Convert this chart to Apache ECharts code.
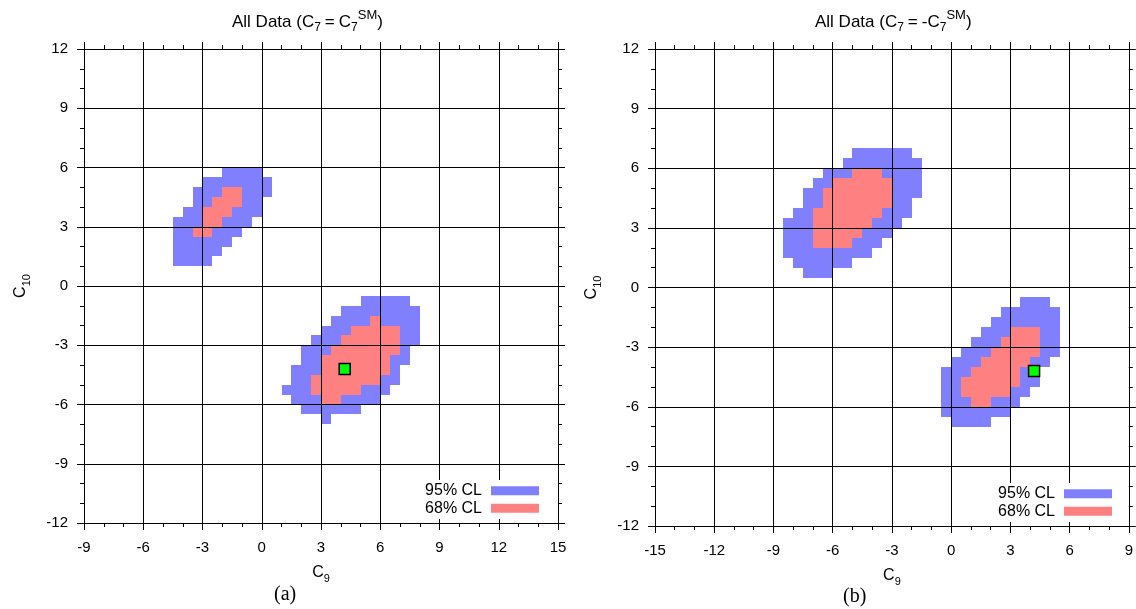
<!DOCTYPE html>
<html><head><meta charset="utf-8">
<script src="https://cdn.jsdelivr.net/npm/echarts@6/dist/echarts.min.js"></script>
<style>html,body{margin:0;padding:0;background:#fff}#c{width:1136px;height:609px}</style>
</head><body><div id="c"></div>
<script>
// ---- data (C9, C10 plane; each run = [C10 row bottom, C9 start, C9 end], bin = 0.5) ----
const CELL = 0.5;
const leftXRange = [-9, 15];
const rightXRange = [-15, 9];
const yRange = [-12, 12];
const TICK_STEP = 3;
const legendNames = ['95% CL', '68% CL'];

const leftBlue = [
  [5.5,-2,0],[5,-3,0.5],[4.5,-3.5,0.5],[4,-3.5,0],[3.5,-4,0],[3,-4.5,-0.5],
  [2.5,-4.5,-1],[2,-4.5,-1.5],[1.5,-4.5,-2],[1,-4.5,-2.5],
  [-1,5,7.5],[-1.5,4,8],[-2,3.5,8],[-2.5,3,8],[-3,2.5,8],[-3.5,2,7.5],[-4,2,7.5],
  [-4.5,1.5,7],[-5,1.5,7],[-5.5,1,6.5],[-6,1.5,6],[-6.5,2,5],[-7,3,3.5]
];
const leftRed = [
  [4.5,-2,-1],[4,-2.5,-1],[3.5,-3,-1.5],[3,-3,-2],[2.5,-3.5,-2.5],
  [-2,5.5,6],[-2.5,4.5,7],[-3,4,7],[-3.5,3.5,7],[-4,3,6.5],[-4.5,3,6.5],
  [-5,2.5,6],[-5.5,2.5,5],[-6,3,4]
];
const rightBlue = [
  [6.5,-5,-2],[6,-5.5,-1.5],[5.5,-6.5,-1.5],[5,-7,-1.5],[4.5,-7.5,-1.5],[4,-7.5,-2],
  [3.5,-8,-2],[3,-8.5,-2.5],[2.5,-8.5,-3],[2,-8.5,-3.5],[1.5,-8.5,-4],[1,-8,-5],[0.5,-7.5,-6],
  [-1,3.5,5],[-1.5,2.5,5.5],[-2,2,5.5],[-2.5,1.5,5.5],[-3,1,5.5],[-3.5,0.5,5.5],[-4,0,5],
  [-4.5,-0.5,4.5],[-5,-0.5,4.5],[-5.5,-0.5,4],[-6,-0.5,3.5],[-6.5,-0.5,3],[-7,0,2]
];
const rightRed = [
  [5.5,-5,-3.5],[5,-6,-3],[4.5,-6.5,-3],[4,-6.5,-3],[3.5,-7,-3.5],[3,-7,-4],[2.5,-7,-4.5],[2,-7,-5],
  [-2.5,3,4.5],[-3,2.5,4.5],[-3.5,2,4.5],[-4,1.5,4],[-4.5,1,3.5],[-5,0.5,3.5],[-5.5,0.5,3],[-6,1,2]
];
const smPoint = [[4.2, -4.2]];

// ---- styling ----
const FONT = 'Liberation Sans';
const BLUE = '#8080ff', RED = '#ff8080';

function runRender(params, api) {
  const y = api.value(0), xs = api.value(1), xe = api.value(2);
  const a = api.coord([xs, y + CELL]);
  const b = api.coord([xe, y]);
  const x0 = Math.round(a[0]), y0 = Math.round(a[1]);
  const x1 = Math.round(b[0]), y1 = Math.round(b[1]);
  return { type: 'rect', shape: { x: x0, y: y0, width: x1 - x0, height: y1 - y0 },
           style: { fill: api.visual('color') } };
}

const nameRich = {
  c: { fontFamily: FONT, fontSize: 16, lineHeight: 16, fontWeight: 'normal', color: '#000', verticalAlign: 'top' },
  s: { fontFamily: FONT, fontSize: 11, lineHeight: 11, fontWeight: 'normal', color: '#000', verticalAlign: 'top', padding: [8, 0, 0, 0] }
};

function axis(gi, range, pos, main, name, nameGap, margin) {
  const o = {
    gridIndex: gi, type: 'value', min: range[0], max: range[1], interval: TICK_STEP,
    position: pos, z: 10,
    axisLine: { show: true, onZero: false, lineStyle: { color: '#000', width: 1 } },
    axisTick: { show: true, inside: false, length: 7, lineStyle: { color: '#000', width: 1 } },
    minorTick: { show: true, splitNumber: 3, length: 4, lineStyle: { color: '#000', width: 1 } },
    splitLine: { show: main, lineStyle: { color: '#000', width: 1 } },
    minorSplitLine: { show: false },
    axisLabel: { show: main, color: '#000', fontFamily: FONT, fontSize: 15, margin: margin || 15,
                 showMinLabel: true, showMaxLabel: true }
  };
  if (name) {
    o.name = name; o.nameLocation = 'middle'; o.nameGap = nameGap;
    o.nameTextStyle = { rich: nameRich };
  }
  return o;
}

function cellSeries(name, data, gi, color, z) {
  return { type: 'custom', name: name, xAxisIndex: gi * 2, yAxisIndex: gi * 2, data: data,
           encode: { x: [1, 2], y: 0 }, itemStyle: { color: color }, renderItem: runRender,
           z: z, silent: true };
}
function markSeries(gi) {
  return { type: 'scatter', name: 'SM', xAxisIndex: gi * 2, yAxisIndex: gi * 2, data: smPoint,
           symbol: 'rect', symbolSize: 11,
           itemStyle: { color: '#00ff00', borderColor: '#000', borderWidth: 1.5, opacity: 1 },
           z: 20, silent: true };
}

const titleRich = {
  m: { fontFamily: FONT, fontSize: 17, lineHeight: 17, fontWeight: 'normal', color: '#000', verticalAlign: 'top', padding: [5, 0, 0, 0] },
  e: { fontFamily: FONT, fontSize: 17, lineHeight: 17, fontWeight: 'normal', color: '#000', verticalAlign: 'top', padding: [5, 4, 0, 4] },
  s: { fontFamily: FONT, fontSize: 12, lineHeight: 12, fontWeight: 'normal', color: '#000', verticalAlign: 'top', padding: [13, 0, 0, 0] },
  p: { fontFamily: FONT, fontSize: 13, lineHeight: 13, fontWeight: 'normal', color: '#000', verticalAlign: 'top', padding: [0, 0, 0, 0] }
};

function legendAt(right, top) {
  return {
    data: legendNames, orient: 'vertical', align: 'right', right: right, top: top,
    itemWidth: 48, itemHeight: 9, itemGap: 0, icon: 'rect', selectedMode: false,
    backgroundColor: '#fff', padding: [2, 6, 2, 30], z: 30,
    textStyle: { fontFamily: FONT, fontSize: 16, color: '#000', lineHeight: 17.5, padding: [0, 4, 0, 0] }
  };
}

const option = {
  animation: false,
  backgroundColor: '#fff',
  title: [
    { text: '{m|All Data (C}{s|7}{e|=}{m|C}{s|7}{p|SM}{m|)}', left: 232, top: 9, padding: 0,
      textStyle: { fontWeight: 'normal', rich: titleRich } },
    { text: '{m|All Data (C}{s|7}{e|=}{m|-C}{s|7}{p|SM}{m|)}', left: 815, top: 9, padding: 0,
      textStyle: { fontWeight: 'normal', rich: titleRich } },
    { text: '(a)', left: 274, top: 585, padding: 0,
      textStyle: { fontFamily: 'Liberation Serif', fontSize: 20, fontWeight: 'normal', color: '#000' } },
    { text: '(b)', left: 843, top: 587, padding: 0,
      textStyle: { fontFamily: 'Liberation Serif', fontSize: 20, fontWeight: 'normal', color: '#000' } }
  ],
  grid: [
    { left: 84, top: 49, width: 474, height: 474 },
    { left: 655, top: 49, width: 477, height: 477 }
  ],
  xAxis: [
    axis(0, leftXRange, 'bottom', true, '{c|C}{s|9}', 42, 17),
    axis(0, leftXRange, 'top', false),
    axis(1, rightXRange, 'bottom', true, '{c|C}{s|9}', 42, 17),
    axis(1, rightXRange, 'top', false)
  ],
  yAxis: [
    axis(0, yRange, 'left', true, '{c|C}{s|10}', 55, 16),
    axis(0, yRange, 'right', false),
    axis(1, yRange, 'left', true, '{c|C}{s|10}', 55, 16),
    axis(1, yRange, 'right', false)
  ],
  legend: [ legendAt(591, 480), legendAt(18, 483) ],
  series: [
    cellSeries(legendNames[0], leftBlue, 0, BLUE, 2),
    cellSeries(legendNames[1], leftRed, 0, RED, 3),
    markSeries(0),
    cellSeries(legendNames[0], rightBlue, 1, BLUE, 2),
    cellSeries(legendNames[1], rightRed, 1, RED, 3),
    markSeries(1)
  ]
};

const chart = echarts.init(document.getElementById('c'), null, { renderer: 'canvas' });
chart.setOption(option);
</script>
</body></html>
